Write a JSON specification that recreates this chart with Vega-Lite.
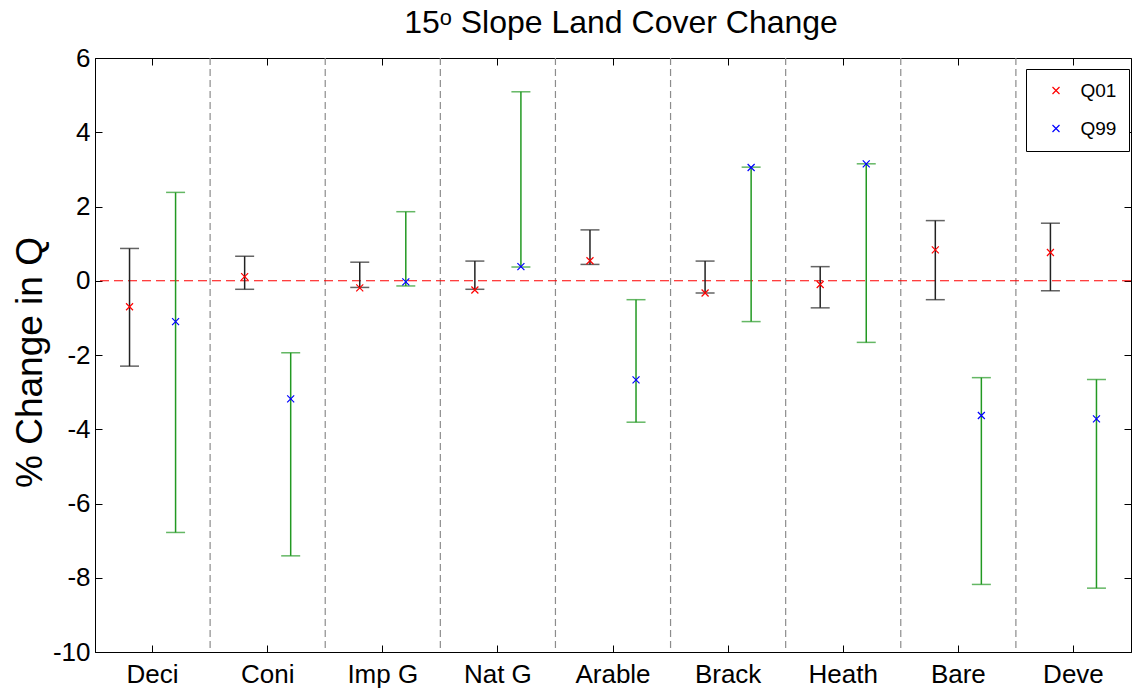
{
  "$schema": "https://vega.github.io/schema/vega-lite/v6.json",
  "width": 1036,
  "height": 594,
  "autosize": {"type": "none"},
  "padding": {"left": 95, "top": 58, "right": 2, "bottom": 41},
  "background": "white",
  "title": {"text": "15ᵒ Slope Land Cover Change", "font": "Liberation Sans", "fontSize": 32, "fontWeight": "normal", "color": "black", "offset": 5, "dx": 8},
  "config": {
    "view": {"stroke": "black", "strokeWidth": 1},
    "font": "Liberation Sans",
    "axis": {"domainColor": "black", "domainWidth": 1, "tickColor": "black", "tickWidth": 1, "labelColor": "black", "labelFont": "Liberation Sans", "labelFontSize": 26, "tickSize": -7, "grid": false, "titleFont": "Liberation Sans", "titleColor": "black", "titleFontWeight": "normal"}
  },
  "data": {"values": [
    {"cat": "Deci", "series": "Q01", "lo": -2.30, "hi": 0.87, "val": -0.70},
    {"cat": "Deci", "series": "Q99", "lo": -6.78, "hi": 2.38, "val": -1.10},
    {"cat": "Coni", "series": "Q01", "lo": -0.23, "hi": 0.66, "val": 0.11},
    {"cat": "Coni", "series": "Q99", "lo": -7.41, "hi": -1.94, "val": -3.18},
    {"cat": "Imp G", "series": "Q01", "lo": -0.18, "hi": 0.50, "val": -0.19},
    {"cat": "Imp G", "series": "Q99", "lo": -0.14, "hi": 1.86, "val": -0.03},
    {"cat": "Nat G", "series": "Q01", "lo": -0.23, "hi": 0.53, "val": -0.25},
    {"cat": "Nat G", "series": "Q99", "lo": 0.37, "hi": 5.09, "val": 0.38},
    {"cat": "Arable", "series": "Q01", "lo": 0.44, "hi": 1.37, "val": 0.54},
    {"cat": "Arable", "series": "Q99", "lo": -3.81, "hi": -0.51, "val": -2.67},
    {"cat": "Brack", "series": "Q01", "lo": -0.33, "hi": 0.53, "val": -0.33},
    {"cat": "Brack", "series": "Q99", "lo": -1.10, "hi": 3.06, "val": 3.05},
    {"cat": "Heath", "series": "Q01", "lo": -0.73, "hi": 0.38, "val": -0.10},
    {"cat": "Heath", "series": "Q99", "lo": -1.66, "hi": 3.15, "val": 3.15},
    {"cat": "Bare", "series": "Q01", "lo": -0.51, "hi": 1.62, "val": 0.83},
    {"cat": "Bare", "series": "Q99", "lo": -8.18, "hi": -2.61, "val": -3.63},
    {"cat": "Deve", "series": "Q01", "lo": -0.27, "hi": 1.55, "val": 0.76},
    {"cat": "Deve", "series": "Q99", "lo": -8.28, "hi": -2.66, "val": -3.72}
  ]},
  "layer": [
    {
      "transform": [{"filter": "datum.series === 'Q01' && datum.cat !== 'Deci'"}],
      "mark": {"type": "rule", "color": "#8c8c8c", "strokeDash": [7, 4], "strokeWidth": 1.2},
      "encoding": {
        "x": {"field": "cat", "type": "nominal", "bandPosition": 0,
              "scale": {"domain": ["Deci", "Coni", "Imp G", "Nat G", "Arable", "Brack", "Heath", "Bare", "Deve"], "paddingInner": 0, "paddingOuter": 0},
              "axis": {"orient": "top", "labels": false, "title": null, "domain": false}}
      }
    },
    {
      "transform": [{"filter": "datum.series === 'Q01' && datum.cat === 'Deci'"}],
      "mark": {"type": "rule", "color": "#ff0000", "strokeDash": [9, 5], "strokeWidth": 1.2},
      "encoding": {
        "y": {"datum": 0, "type": "quantitative",
              "scale": {"domain": [-10, 6], "nice": false, "zero": false},
              "axis": {"orient": "right", "labels": false, "title": null, "domain": false, "values": [-10, -8, -6, -4, -2, 0, 2, 4, 6]}}
      }
    },
    {
      "mark": {"type": "rule", "strokeWidth": 1.5},
      "encoding": {
        "x": {"field": "cat", "type": "nominal",
              "scale": {"domain": ["Deci", "Coni", "Imp G", "Nat G", "Arable", "Brack", "Heath", "Bare", "Deve"], "paddingInner": 0, "paddingOuter": 0},
              "axis": {"orient": "bottom", "title": null, "labelAngle": 0, "labelPadding": 16}},
        "xOffset": {"field": "series", "type": "nominal", "scale": {"domain": ["Q01", "Q99"], "paddingInner": 0, "paddingOuter": 0.25}},
        "y": {"field": "lo", "type": "quantitative",
              "scale": {"domain": [-10, 6], "nice": false, "zero": false},
              "axis": {"orient": "left", "values": [-10, -8, -6, -4, -2, 0, 2, 4, 6], "labelPadding": 12,
                       "labelExpr": "datum.value < 0 ? '-' + abs(datum.value) : '' + datum.value",
                       "title": "% Change in Q", "titleFontSize": 37, "titleAngle": -90, "titleBaseline": "alphabetic", "titleAlign": "center", "titleX": -54, "titleY": 304}},
        "y2": {"field": "hi"},
        "color": {"condition": {"test": "datum.series === 'Q01'", "value": "#222222"}, "value": "#229922"}
      }
    },
    {
      "mark": {"type": "tick", "size": 19, "thickness": 1.5},
      "encoding": {
        "x": {"field": "cat", "type": "nominal", "axis": null},
        "xOffset": {"field": "series", "type": "nominal"},
        "y": {"field": "lo", "type": "quantitative", "axis": null},
        "color": {"condition": {"test": "datum.series === 'Q01'", "value": "#222222"}, "value": "#229922"}
      }
    },
    {
      "mark": {"type": "tick", "size": 19, "thickness": 1.5},
      "encoding": {
        "x": {"field": "cat", "type": "nominal", "axis": null},
        "xOffset": {"field": "series", "type": "nominal"},
        "y": {"field": "hi", "type": "quantitative", "axis": null},
        "color": {"condition": {"test": "datum.series === 'Q01'", "value": "#222222"}, "value": "#229922"}
      }
    },
    {
      "mark": {"type": "point", "shape": "M-1,-1L1,1M-1,1L1,-1", "size": 49, "filled": false, "strokeWidth": 1.2, "opacity": 1},
      "encoding": {
        "x": {"field": "cat", "type": "nominal", "axis": null},
        "xOffset": {"field": "series", "type": "nominal"},
        "y": {"field": "val", "type": "quantitative", "axis": null},
        "color": {"field": "series", "type": "nominal",
                  "scale": {"domain": ["Q01", "Q99"], "range": ["#ff0000", "#0000ff"]},
                  "legend": {"title": null, "orient": "none", "legendX": 931, "legendY": 11, "strokeColor": "black", "fillColor": "white", "padding": 12,
                             "symbolType": "M-1,-1L1,1M-1,1L1,-1", "symbolSize": 49, "symbolStrokeWidth": 1.2, "symbolOffset": 8.5, "labelOffset": 15,
                             "rowPadding": 18, "labelFontSize": 19, "labelFont": "Liberation Sans", "labelColor": "black"}}
      }
    }
  ],
  "resolve": {"axis": {"x": "independent", "y": "independent"}}
}
